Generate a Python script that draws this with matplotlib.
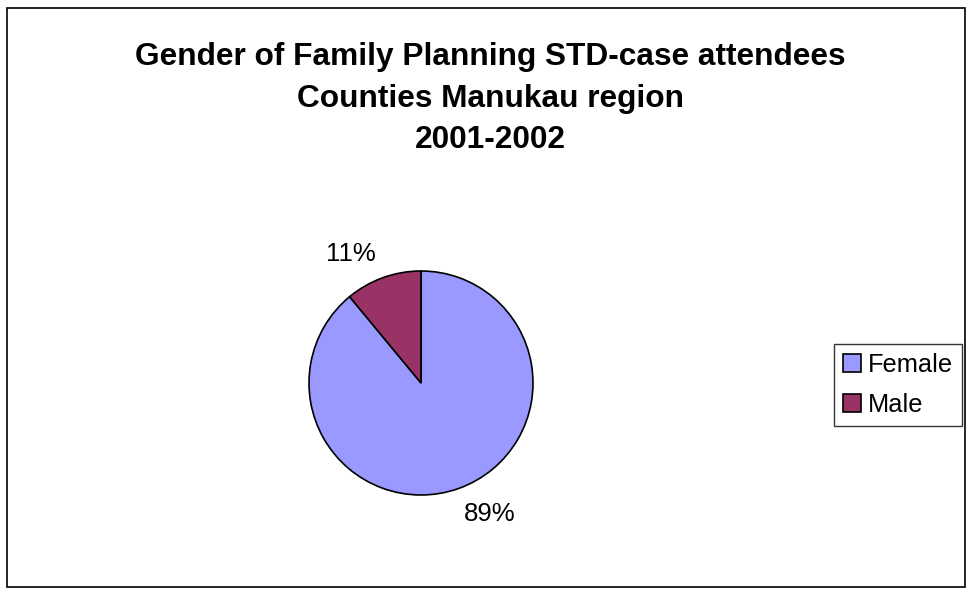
import matplotlib.pyplot as plt
from matplotlib.patches import Rectangle

plt.rcParams['font.family'] = ['Liberation Sans', 'DejaVu Sans']

labels = ['Female', 'Male']
shares = [89, 11]
colors = ['#9999ff', '#993366']

W, H = 968, 595
fig = plt.figure(figsize=(W / 100, H / 100), dpi=100)

# outer chart border
fig.patches.append(Rectangle((7 / W, 8 / H), 958 / W, 579 / H, transform=fig.transFigure,
                             fill=False, edgecolor='black', linewidth=1.2))

fig.text(490 / W, (H - 99) / H, 'Gender of Family Planning STD-case attendees\n'
         'Counties Manukau region\n2001-2002',
         ha='center', va='center', fontsize=22.8, fontweight='bold', linespacing=1.5)

# pie axes: centre (421, 383), radius 112 px
cx, cy, r = 421, 383, 112
ax = fig.add_axes([(cx - r) / W, (H - cy - r) / H, 2 * r / W, 2 * r / H])
wedges, texts, autotexts = ax.pie(shares, colors=colors, startangle=90, counterclock=False,
                                  autopct='%1.0f%%', pctdistance=1.3,
                                  wedgeprops=dict(edgecolor='black', linewidth=1.2),
                                  textprops=dict(fontsize=18.5))
ax.set_xlim(-1, 1)
ax.set_ylim(-1, 1)
autotexts[0].set_position(((490 - cx) / r, (cy - 514) / r))
autotexts[1].set_position(((351 - cx) / r, (cy - 254) / r))

leg = fig.legend(wedges, labels, loc='center', bbox_to_anchor=(898 / W, (H - 385) / H),
                 fontsize=18.3, frameon=True, fancybox=False, edgecolor='black',
                 handlelength=0.7, handleheight=0.7, handletextpad=0.25,
                 labelspacing=0.62, borderpad=0.35, borderaxespad=0)
leg.get_frame().set_linewidth(1.0)

fig.savefig('out.png', dpi=100)
